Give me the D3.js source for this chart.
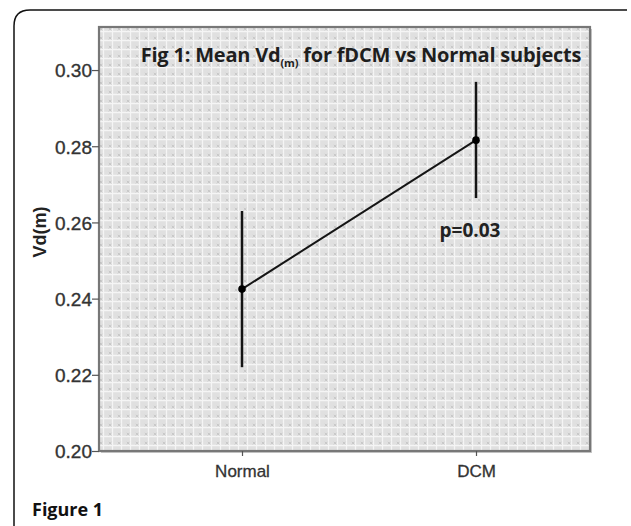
<!DOCTYPE html>
<html>
<head>
<meta charset="utf-8">
<script src="https://cdn.jsdelivr.net/npm/d3@7"></script>
<style>
  body { margin: 0; background: #fff; }
  svg { display: block; }
</style>
</head>
<body>
<svg id="svg" width="631" height="526"></svg>
<script>
  // data
  var categories = ['Normal', 'DCM'],
      means = [0.2425, 0.2816],
      upper = [0.263, 0.2969],
      lower = [0.222, 0.2664],
      yTicks = [0.20, 0.22, 0.24, 0.26, 0.28, 0.30],
      pLabel = 'p=0.03';

  var svg = d3.select('#svg'),
      plot = { left: 99, top: 27, right: 590, bottom: 451 };

  var x = d3.scalePoint()
    .domain(categories)
    .range([plot.left + 143, plot.right - 114]);

  var y = d3.scaleLinear()
    .domain([0.20, 0.3113])
    .range([plot.bottom, plot.top]);

  setupPattern();
  drawFrame();
  drawPlot();

  // ====================================================================================
  // === Background

  function setupPattern () {
    var pat = svg.append('defs').append('pattern')
      .attr('id', 'spss')
      .attr('patternUnits', 'userSpaceOnUse')
      .attr('width', 9).attr('height', 9);
    pat.append('rect').attr('width', 9).attr('height', 9).attr('fill', '#e0e0e0');
    // white grid
    pat.append('path').attr('d', 'M0,4.5H9M4.5,0V9').attr('stroke', '#f5f5f5').attr('stroke-width', 1.3);
    // little x marks
    pat.append('path').attr('d', 'M0.8,0.8L3.4,3.4M3.4,0.8L0.8,3.4')
      .attr('stroke', '#c4c4c4').attr('stroke-width', 0.9);
  }

  function drawFrame () {
    // outer rounded frame (left + top only)
    svg.append('path')
      .attr('d', 'M14,526V26Q14,10 30,10H627')
      .attr('fill', 'none')
      .attr('stroke', '#111')
      .attr('stroke-width', 1.5);

    svg.append('text')
      .attr('x', 32).attr('y', 516)
      .attr('font-family', '"Open Sans", "Noto Sans", sans-serif')
      .attr('font-weight', 'bold')
      .attr('font-size', 18)
      .attr('fill', '#111')
      .text('Figure 1');
  }

  // ====================================================================================
  // === Chart

  function drawPlot () {
    // shadow + panel
    svg.append('rect')
      .attr('x', plot.left + 2).attr('y', plot.top + 2)
      .attr('width', plot.right - plot.left).attr('height', plot.bottom - plot.top)
      .attr('fill', '#c8c8c8');
    svg.append('rect')
      .attr('x', plot.left).attr('y', plot.top)
      .attr('width', plot.right - plot.left).attr('height', plot.bottom - plot.top)
      .attr('fill', 'url(#spss)')
      .attr('stroke', '#777')
      .attr('stroke-width', 2.2);

    // title with subscript
    var title = svg.append('text')
      .attr('x', 361).attr('y', 62)
      .attr('text-anchor', 'middle')
      .attr('font-family', '"Open Sans", "Noto Sans", sans-serif')
      .attr('font-weight', 'bold')
      .attr('font-size', 20)
      .attr('fill', '#1e1e1e')
      .attr('letter-spacing', -0.2);
    title.append('tspan').text('Fig 1: Mean Vd');
    title.append('tspan').attr('font-size', 11).attr('dy', 5).text('(m)');
    title.append('tspan').attr('dy', -5).text(' for fDCM vs Normal subjects');

    // y axis
    var yAxis = svg.append('g')
      .attr('transform', 'translate(' + plot.left + ',0)')
      .call(d3.axisLeft(y).tickValues(yTicks).tickFormat(d3.format('.2f')).tickSize(7).tickSizeOuter(0));
    yAxis.select('.domain').remove();
    yAxis.selectAll('line').attr('stroke', '#555').attr('stroke-width', 1.2);
    yAxis.selectAll('text')
      .attr('font-family', '"Liberation Sans", Arial, sans-serif')
      .attr('font-size', 19)
      .attr('fill', '#333')
      .attr('stroke', '#333')
      .attr('stroke-width', 0.35)
      .attr('x', -7)
      .attr('dy', '0.36em');

    // x axis
    var xAxis = svg.append('g')
      .attr('transform', 'translate(0,' + plot.bottom + ')')
      .call(d3.axisBottom(x).tickSize(5).tickSizeOuter(0));
    xAxis.select('.domain').remove();
    xAxis.selectAll('line').attr('stroke', '#555').attr('stroke-width', 1.2);
    xAxis.selectAll('text')
      .attr('font-family', '"Liberation Sans", Arial, sans-serif')
      .attr('font-size', 17)
      .attr('fill', '#333')
      .attr('stroke', '#333')
      .attr('stroke-width', 0.3)
      .attr('y', 14)
      .attr('dy', '0.71em');

    // y axis title
    svg.append('text')
      .attr('transform', 'translate(46,' + y(0.2575) + ') rotate(-90)')
      .attr('text-anchor', 'middle')
      .attr('font-family', '"Liberation Sans", Arial, sans-serif')
      .attr('font-weight', 'bold')
      .attr('font-size', 18)
      .attr('fill', '#222')
      .text('Vd(m)');

    var rows = categories.map(function (c, i) {
      return { cat: c, mean: means[i], hi: upper[i], lo: lower[i] };
    });

    // error bars
    svg.selectAll('.err').data(rows).enter().append('line')
      .classed('err', true)
      .attr('x1', function (d) { return x(d.cat); })
      .attr('x2', function (d) { return x(d.cat); })
      .attr('y1', function (d) { return y(d.hi); })
      .attr('y2', function (d) { return y(d.lo); })
      .attr('stroke', '#151515')
      .attr('stroke-width', 2.5);

    // mean line
    svg.append('path')
      .datum(rows)
      .attr('fill', 'none')
      .attr('stroke', '#151515')
      .attr('stroke-width', 2)
      .attr('d', d3.line()
        .x(function (d) { return x(d.cat); })
        .y(function (d) { return y(d.mean); }));

    svg.selectAll('.pt').data(rows).enter().append('circle')
      .classed('pt', true)
      .attr('cx', function (d) { return x(d.cat); })
      .attr('cy', function (d) { return y(d.mean); })
      .attr('r', 3.8)
      .attr('fill', '#000');

    // p value annotation under DCM bar
    svg.append('text')
      .attr('x', x('DCM') - 6).attr('y', 237)
      .attr('text-anchor', 'middle')
      .attr('font-family', '"Open Sans", "Noto Sans", sans-serif')
      .attr('font-weight', 'bold')
      .attr('font-size', 19)
      .attr('fill', '#222')
      .text(pLabel);
  }
</script>
</body>
</html>
